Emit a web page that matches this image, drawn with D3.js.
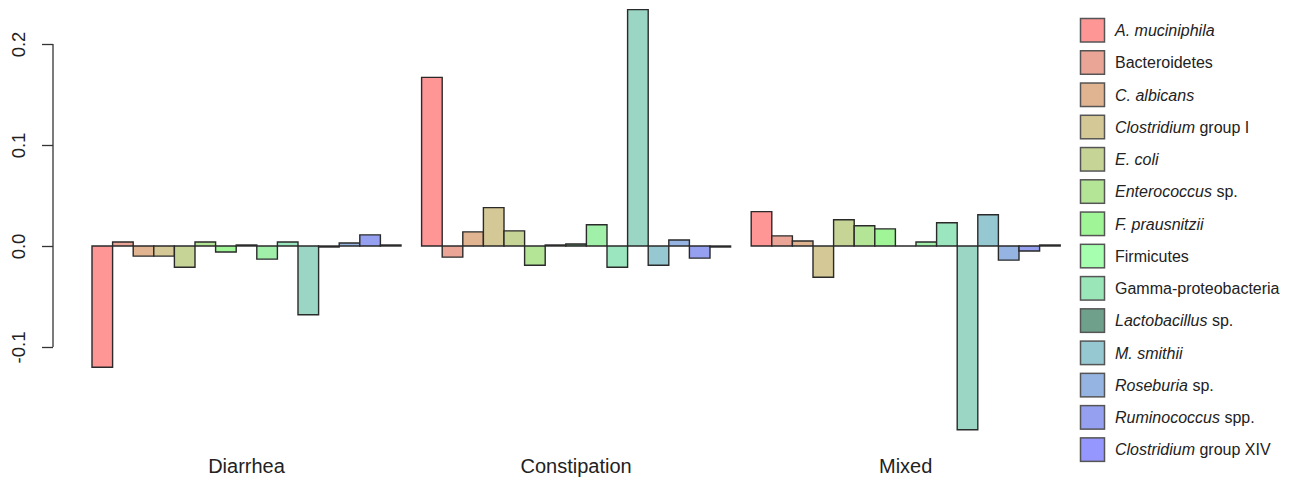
<!DOCTYPE html>
<html>
<head>
<meta charset="utf-8">
<script src="https://cdn.jsdelivr.net/npm/d3@7"></script>
<style>
  html, body { margin: 0; padding: 0; background: #fff; }
  svg { display: block; font-family: "Liberation Sans", Arial, sans-serif; }
</style>
</head>
<body>
<svg id="chart" width="1298" height="480"></svg>
<script>
// Patient subgroups (x-axis groups)
const groups = ["Diarrhea", "Constipation", "Mixed"];

// Legend entries: [italic part, regular part]
const taxa = [
  ["A. muciniphila", ""],
  ["", "Bacteroidetes"],
  ["C. albicans", ""],
  ["Clostridium", " group I"],
  ["E. coli", ""],
  ["Enterococcus", " sp."],
  ["F. prausnitzii", ""],
  ["", "Firmicutes"],
  ["", "Gamma-proteobacteria"],
  ["Lactobacillus", " sp."],
  ["M. smithii", ""],
  ["Roseburia", " sp."],
  ["Ruminococcus", " spp."],
  ["Clostridium", " group XIV"]
];

// Bar values per group (15 bars per group)
const diarrheaValues     = [-0.120, 0.004, -0.010, -0.010, -0.021, 0.004, -0.006, 0.001, -0.013, 0.004, -0.068, -0.001, 0.003, 0.011, 0.001];
const constipationValues = [ 0.167, -0.011, 0.014, 0.038, 0.015, -0.019, 0.001, 0.002, 0.021, -0.021, 0.234, -0.019, 0.006, -0.012, -0.001];
const mixedValues        = [ 0.034, 0.010, 0.005, -0.031, 0.026, 0.020, 0.017, 0.000, 0.004, 0.023, -0.182, 0.031, -0.014, -0.005, 0.001];
const values = [diarrheaValues, constipationValues, mixedValues];

// Fill colours of the 15 bars in each group
const barColors = ["#FF9696", "#EBA596", "#E1B491", "#D4C896", "#C6D496", "#B4E496", "#A0F596",
                   "#6EA07A", "#A0F0AA", "#9BE6BE", "#9BD5C4", "#96C8D2", "#96B4E1", "#96A0F0", "#9696FF"];
// Fill colours of the legend swatches
const legendColors = ["#FF9696", "#EBA596", "#E1B491", "#D4C896", "#C6D496", "#B4E496", "#A0F596",
                      "#A5FFAF", "#9BE6B9", "#6EA08C", "#96C8D2", "#96B4E1", "#96A0F0", "#9696FF"];

// Y ticks
const yTicks = [-0.1, 0.0, 0.1, 0.2];
const yTickLabels = ["-0.1", "0.0", "0.1", "0.2"];

const svg = d3.select("#chart");

const y = d3.scaleLinear().domain([0, 0.2]).range([246, 44]);
const xGroup = d3.scaleBand().domain(groups).range([92, 1060.2]).paddingInner(1 / 16).paddingOuter(0);
const xBar = d3.scaleBand().domain(d3.range(15)).range([0, xGroup.bandwidth()]).padding(0);

// Y axis
const yAxis = d3.axisLeft(y).tickValues(yTicks).tickFormat((d, i) => yTickLabels[i]).tickSize(11).tickSizeOuter(0);
const ax = svg.append("g").attr("transform", "translate(53,0)").call(yAxis);
ax.select(".domain").attr("stroke", "#333").attr("stroke-width", 1.3)
  .attr("d", `M0,${y(-0.1)}V${y(0.2)}`);
ax.selectAll(".tick line").attr("stroke", "#333").attr("stroke-width", 1.3);
ax.selectAll(".tick text")
  .attr("x", 0).attr("y", 0).attr("dy", 0)
  .attr("transform", "translate(-28,0) rotate(-90)")
  .attr("text-anchor", "middle")
  .attr("font-size", 18.5)
  .attr("font-family", "Liberation Sans, Arial, sans-serif")
  .attr("fill", "#222");

// Bars (drawn as paths so zero-height bars still show their outline)
const gGroups = svg.append("g").selectAll("g")
  .data(groups).join("g")
  .attr("transform", d => `translate(${xGroup(d)},0)`);

gGroups.selectAll("path")
  .data((g, gi) => values[gi].map((v, i) => ({ v, i })))
  .join("path")
  .attr("d", d => {
    const x0 = xBar(d.i), w = xBar.bandwidth();
    const y0 = y(0), y1 = y(d.v);
    return `M${x0},${y0}H${x0 + w}V${y1}H${x0}Z`;
  })
  .attr("fill", d => barColors[d.i])
  .attr("stroke", "#2a2a2a")
  .attr("stroke-width", 1.4)
  .attr("stroke-linejoin", "miter");

// Group labels
svg.append("g").selectAll("text")
  .data(groups).join("text")
  .attr("x", d => xGroup(d) + xGroup.bandwidth() / 2)
  .attr("y", 473)
  .attr("text-anchor", "middle")
  .attr("font-size", 20)
  .attr("fill", "#222")
  .text(d => d);

// Legend
const legend = svg.append("g").attr("transform", "translate(1080,18)");
const rows = legend.selectAll("g").data(taxa).join("g")
  .attr("transform", (d, i) => `translate(0,${i * 32.26})`);
rows.append("rect")
  .attr("x", 0.5).attr("y", 0.5).attr("width", 24).attr("height", 23.5)
  .attr("fill", (d, i) => legendColors[i])
  .attr("stroke", "#555").attr("stroke-width", 1.5);
const lt = rows.append("text")
  .attr("x", 35).attr("y", 18)
  .attr("font-size", 16)
  .attr("fill", "#222");
lt.append("tspan").attr("font-style", "italic").text(d => d[0]);
lt.append("tspan").text(d => d[1]);
</script>
</body>
</html>
